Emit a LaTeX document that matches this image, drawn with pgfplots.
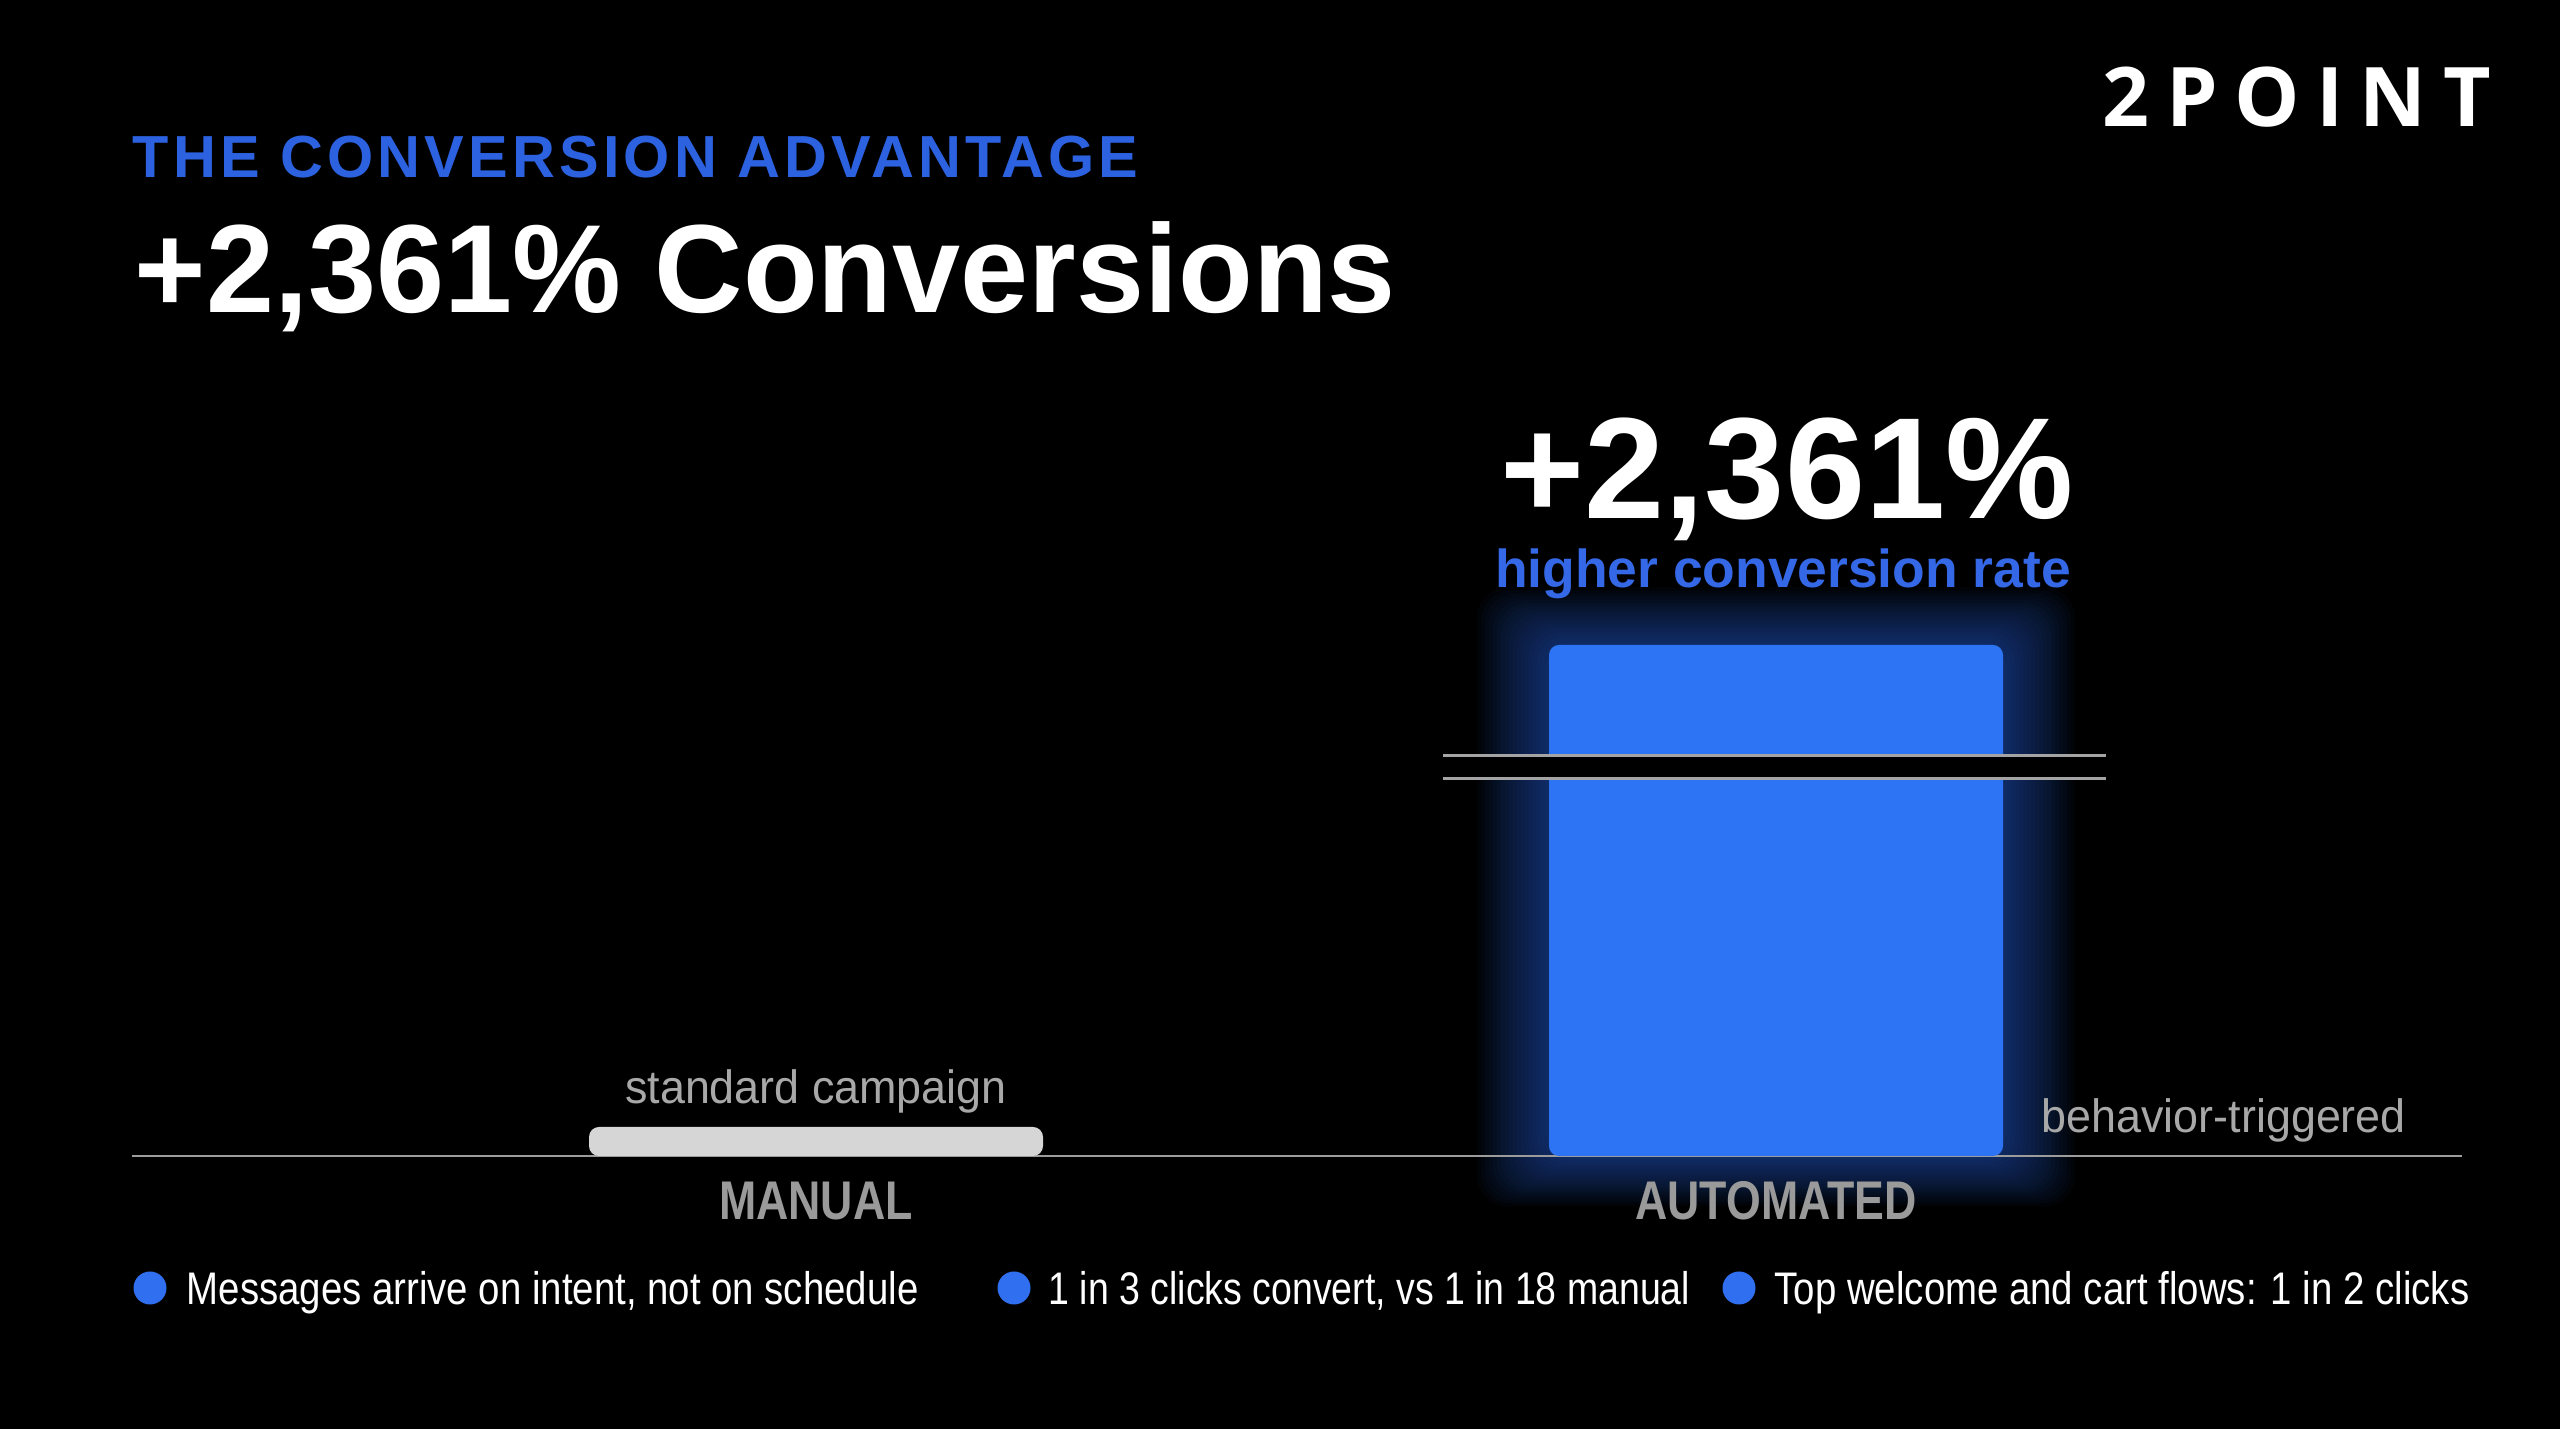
\documentclass[border=0pt]{standalone}
\usepackage{pgfplots}
\pgfplotsset{compat=1.18}
\usepackage{fontspec}
\setmainfont{Liberation Sans}
\newfontfamily\kickerfont[LetterSpace=7]{Liberation Sans}
\newfontfamily\logofont[LetterSpace=20]{Open Sans}
\newfontfamily\condfont[FakeStretch=0.84]{Liberation Sans}
\newfontfamily\condfontb[FakeStretch=0.82]{Liberation Sans}
\newfontfamily\ticklabfont[FakeStretch=0.82]{Liberation Sans}
\newfontfamily\titlefont[FakeStretch=0.975]{Liberation Sans}
\newfontfamily\labelfont[FakeStretch=0.96]{Liberation Sans}
\definecolor{barblue}{HTML}{2D74F5}
\definecolor{kickerblue}{HTML}{2C62E0}
\definecolor{subblue}{HTML}{3468E6}
\definecolor{dotblue}{HTML}{2F6FF0}
\definecolor{manualgray}{HTML}{D6D6D6}
\definecolor{axisgray}{HTML}{9C9C9C}
\definecolor{breakgray}{HTML}{A4A4A4}
\definecolor{labelgray}{HTML}{9A9A9A}
\definecolor{notegray}{HTML}{A8A8A8}
\begin{document}
\begin{tikzpicture}[x=1cm,y=1cm]
\fill[black] (0,0) rectangle (25.6,14.29);
% soft glow around the automated bar
\foreach \d in {0.04,0.08,...,0.76} {
  \fill[barblue, opacity=0.032, rounded corners=0.3cm] (15.49-\d, 2.73-0.7*\d) rectangle (20.03+\d, 7.84+0.8*\d);
}
\begin{axis}[
  at={(1.32cm,2.73cm)}, anchor=south west,
  scale only axis, width=23.3cm, height=5.11cm,
  xmin=-0.7125, xmax=1.7146, ymin=0, ymax=24.61,
  % broken value axis: a chunk of 6.99 units is cut out above the break
  y coord trafo/.code={\pgfmathparse{#1>17 ? #1-6.99 : #1}},
  y coord inv trafo/.code={\pgfmathparse{#1>10.01 ? #1+6.99 : #1}},
  hide y axis, axis x line*=bottom,
  x axis line style={draw=axisgray, line width=0.85pt, -},
  xtick={0,1}, xticklabels={MANUAL,AUTOMATED},
  ytick=\empty,
  major tick length=0pt,
  xticklabel style={anchor=base, inner sep=0pt, yshift=-0.64cm, text=labelgray, font=\ticklabfont\bfseries\fontsize{15.5}{18}\selectfont},
  clip=false,
]
\addplot[ybar, bar width=4.54cm, bar shift=0pt, fill=manualgray, draw=none, rounded corners=0.1cm] coordinates {(0,1)};
\addplot[ybar, bar width=4.54cm, bar shift=0pt, fill=barblue, draw=none, rounded corners=0.1cm] coordinates {(1,24.61)};
\end{axis}
% axis break
\fill[black] (14.43,6.50) rectangle (21.06,6.73);
\draw[breakgray, line width=0.85pt] (14.43,6.50) -- (21.06,6.50);
\draw[breakgray, line width=0.85pt] (14.43,6.73) -- (21.06,6.73);
% titles
\node[anchor=base west, inner sep=0, text=kickerblue, font=\kickerfont\bfseries\fontsize{16.9}{20}\selectfont] at (1.32,12.51) {THE CONVERSION ADVANTAGE};
\node[anchor=base west, inner sep=0, text=white, font=\titlefont\bfseries\fontsize{35.7}{42}\selectfont] at (1.34,11.16) {+2,361\% Conversions};
\node[anchor=base west, inner sep=0, text=white, font=\logofont\bfseries\fontsize{23.4}{28}\selectfont] at (21.02,13.02) {2POINT};
% annotations
\node[anchor=base, inner sep=0, text=white, font=\bfseries\fontsize{41}{48}\selectfont] at (17.87,9.10) {+2,361\%};
\node[anchor=base, inner sep=0, text=subblue, font=\bfseries\fontsize{15.2}{18}\selectfont] at (17.83,8.41) {higher conversion rate};
\node[anchor=base, inner sep=0, text=notegray, font=\labelfont\fontsize{13.3}{16}\selectfont] at (8.16,3.25) {standard campaign};
\node[anchor=base west, inner sep=0, text=notegray, font=\labelfont\fontsize{13.3}{16}\selectfont] at (20.41,2.96) {behavior-triggered};
% bullet notes
\fill[dotblue] (1.50,1.41) circle (0.165);
\node[anchor=base west, inner sep=0, text=white, font=\condfont\fontsize{13}{16}\selectfont] at (1.86,1.245) {Messages arrive on intent, not on schedule};
\fill[dotblue] (10.14,1.41) circle (0.165);
\node[anchor=base west, inner sep=0, text=white, font=\condfontb\fontsize{13}{16}\selectfont] at (10.48,1.245) {1 in 3 clicks convert, vs 1 in 18 manual};
\fill[dotblue] (17.39,1.41) circle (0.165);
\node[anchor=base west, inner sep=0, text=white, font=\condfont\fontsize{13}{16}\selectfont] at (17.74,1.245) {Top welcome and cart flows: 1 in 2 clicks};
\pgfresetboundingbox
\useasboundingbox (0,0) rectangle (25.6,14.29);
\end{tikzpicture}
\end{document}
